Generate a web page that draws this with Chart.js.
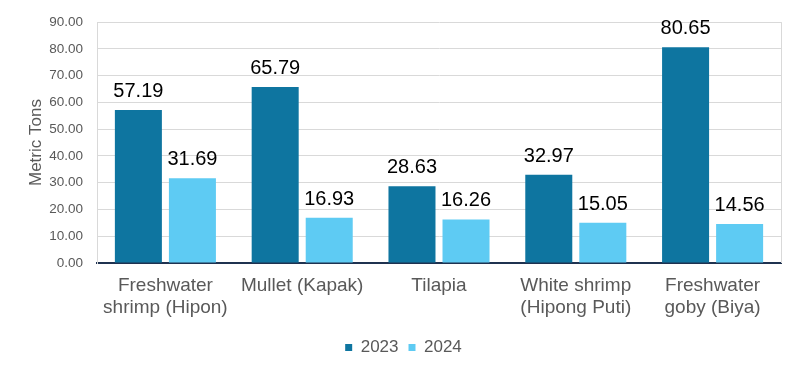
<!DOCTYPE html>
<html>
<head>
<meta charset="utf-8">
<script src="https://cdn.jsdelivr.net/npm/chart.js@4"></script>
<style>
html,body{margin:0;padding:0;background:#fff;}
#wrap{width:802px;height:374px;}
</style>
</head>
<body>
<div id="wrap"><canvas id="c" width="802" height="374"></canvas></div>
<script>
const categories = [["Freshwater","shrimp (Hipon)"],"Mullet (Kapak)","Tilapia",["White shrimp","(Hipong Puti)"],["Freshwater","goby (Biya)"]];
const series2023 = [57.19, 65.79, 28.63, 32.97, 80.65];
const series2024 = [31.69, 16.93, 16.26, 15.05, 14.56];
const seriesNames = ["2023", "2024"];
const yTicks = [0, 10, 20, 30, 40, 50, 60, 70, 80, 90];

const FONT = "'Liberation Sans', Arial, sans-serif";

const labelPlugin = {
  id: 'valLabels',
  afterDatasetsDraw(chart) {
    const ctx = chart.ctx;
    ctx.save();
    ctx.font = "20px " + FONT;
    ctx.fillStyle = "#000";
    ctx.textAlign = "center";
    ctx.textBaseline = "alphabetic";
    chart.data.datasets.forEach((ds, i) => {
      const meta = chart.getDatasetMeta(i);
      meta.data.forEach((el, j) => {
        ctx.fillText(ds.data[j].toFixed(2), el.x, el.y - 13);
      });
    });
    ctx.restore();
  }
};
const borderPlugin = {
  id: 'frame',
  beforeDatasetsDraw(chart) {
    const a = chart.chartArea, ctx = chart.ctx;
    ctx.save();
    ctx.strokeStyle = "#d9d9d9";
    ctx.lineWidth = 1;
    ctx.beginPath();
    ctx.moveTo(Math.round(a.right) + 0.5, a.top);
    ctx.lineTo(Math.round(a.right) + 0.5, a.bottom);
    ctx.stroke();
    ctx.restore();
  }
};

new Chart(document.getElementById('c'), {
  type: 'bar',
  data: {
    labels: categories,
    datasets: [
      { label: seriesNames[0], data: series2023, backgroundColor: '#0e75a0' },
      { label: seriesNames[1], data: series2024, backgroundColor: '#5ecbf3' }
    ]
  },
  options: {
    responsive: false,
    animation: false,
    devicePixelRatio: 1,
    layout: { padding: { top: 21, right: 21, left: 26, bottom: 8 } },
    datasets: { bar: { categoryPercentage: 0.79, barPercentage: 0.87 } },
    plugins: {
      tooltip: { enabled: false },
      legend: {
        position: 'bottom',
        labels: {
          font: { family: FONT, size: 17 },
          color: '#595959',
          boxWidth: 7, boxHeight: 7,
          padding: 10
        }
      }
    },
    scales: {
      x: {
        grid: { display: false, drawTicks: false },
        border: { color: '#1f3250', width: 2 },
        ticks: { font: { family: FONT, size: 19, lineHeight: 1.2 }, color: '#595959', padding: 11, maxRotation: 0, autoSkip: false },
        afterFit(s) { s.height = 66; }
      },
      y: {
        min: 0, max: 90,
        afterBuildTicks(s) { s.ticks = yTicks.map(v => ({ value: v })); },
        grid: { color: '#d9d9d9', drawTicks: false },
        border: { color: '#d9d9d9' },
        ticks: {
          font: { family: FONT, size: 13.5 }, color: '#595959', padding: 14,
          callback: v => Number(v).toFixed(2)
        },
        title: { display: true, text: 'Metric Tons', font: { family: FONT, size: 17 }, color: '#595959', padding: 0 },
        afterFit(s) { s.width = 71; }
      }
    }
  },
  plugins: [labelPlugin, borderPlugin]
});
</script>
</body>
</html>
